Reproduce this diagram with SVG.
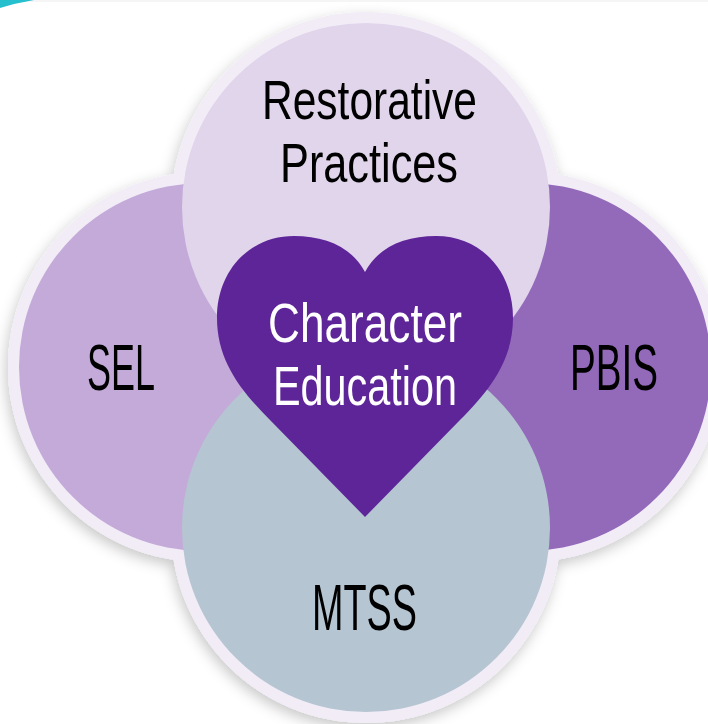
<svg xmlns="http://www.w3.org/2000/svg" width="708" height="724" viewBox="0 0 708 724">
  <defs>
    <filter id="shadow" x="-20%" y="-20%" width="140%" height="140%">
      <feDropShadow dx="-2" dy="5" stdDeviation="7" flood-color="#000" flood-opacity="0.22"/>
    </filter>
    <style>
      .lbl { font-family: "Liberation Sans", Arial, sans-serif; font-size: 65px; fill: #000; text-anchor: middle; }
      .two { font-size: 56px; }
      .heart-lbl { fill: #fff; }
      .border { fill: #f2ecf7; }
    </style>
  </defs>
  <rect x="0" y="0" width="708" height="724" fill="#ffffff"/>
  <rect x="0" y="0" width="708" height="2" fill="#f5f5f5"/>
  <path d="M0,0 L34,0 Q16,3 0,8 Z" fill="#25bfce"/>

  <g id="borders" filter="url(#shadow)">
    <circle class="border" cx="203" cy="367" r="195"/>
    <circle class="border" cx="527" cy="367" r="195"/>
    <circle class="border" cx="366" cy="207" r="195"/>
    <circle class="border" cx="366" cy="528" r="195"/>
  </g>

  <g id="sel">
    <circle cx="203" cy="367" r="184" fill="#c3aad9"/>
    <text class="lbl" transform="translate(121,390) scale(0.553,1)">SEL</text>
  </g>
  <g id="pbis">
    <circle cx="527" cy="367" r="184" fill="#9369ba"/>
    <text class="lbl" transform="translate(614,390) scale(0.594,1)">PBIS</text>
  </g>
  <g id="restorative">
    <circle cx="366" cy="207" r="184" fill="#e1d5eb"/>
    <text class="lbl two" transform="translate(369.5,119) scale(0.759,1)">Restorative</text>
    <text class="lbl two" transform="translate(369,182) scale(0.773,1)">Practices</text>
  </g>
  <g id="mtss">
    <circle cx="366" cy="528" r="184" fill="#b5c5d2"/>
    <text class="lbl" transform="translate(364.5,630) scale(0.581,1)">MTSS</text>
  </g>
  <g id="character-education">
    <path d="M365,272 C352,247 325,236 294,236 C250,236 217,270 217,318 C217,360 240,390 270,420 L365,517 L460,420 C490,390 513,360 513,318 C513,270 480,236 436,236 C405,236 378,247 365,272 Z" fill="#5e2599"/>
    <text class="lbl two heart-lbl" transform="translate(365,342) scale(0.789,1)">Character</text>
    <text class="lbl two heart-lbl" transform="translate(365,405) scale(0.739,1)">Education</text>
  </g>
  <g id="connectors"/>
</svg>
